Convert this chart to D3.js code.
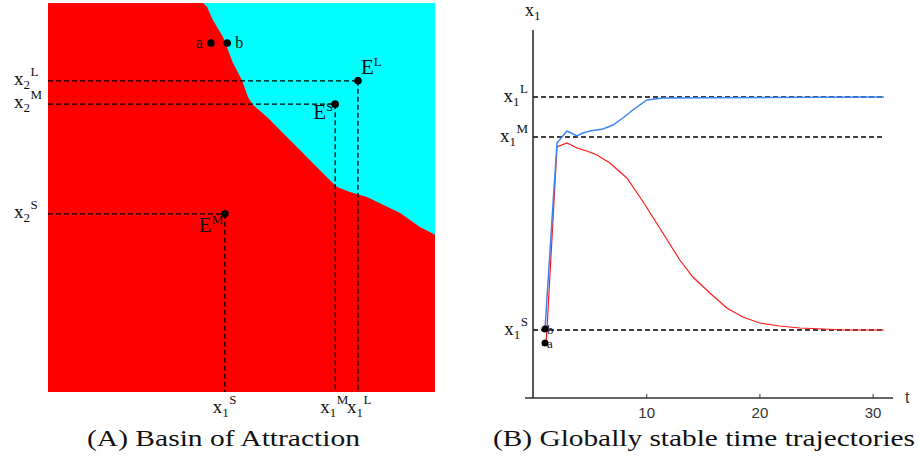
<!DOCTYPE html>
<html>
<head>
<meta charset="utf-8">
<script src="https://cdn.jsdelivr.net/npm/d3@7"></script>
<style>
  body { margin: 0; background: #fff; }
  text { font-family: "Liberation Serif", serif; fill: #111; }
</style>
</head>
<body>
<div id="chart"></div>
<script>
// ---- panel A : basin of attraction (unit square, x1 horizontal, x2 vertical)
var boundaryX1 = [0.401, 0.411, 0.426, 0.452, 0.478, 0.501, 0.517, 0.530, 0.566, 0.607, 0.651, 0.695, 0.736, 0.747, 0.780, 0.824, 0.910, 0.961, 1.0];
var boundaryX2 = [1.0, 0.990, 0.956, 0.913, 0.846, 0.802, 0.758, 0.738, 0.707, 0.666, 0.622, 0.578, 0.537, 0.527, 0.514, 0.501, 0.460, 0.424, 0.404];

var eqNames = ['L', 'S', 'M'];
var eqX1 = [0.801, 0.742, 0.457];
var eqX2 = [0.800, 0.740, 0.458];
var x1Labels = ['L', 'M', 'S'];   // label under each vertical dashed line
var x2Labels = ['L', 'M', 'S'];   // label left of each horizontal dashed line

var startNames = ['a', 'b'];
var startX1 = [0.421, 0.463];
var startX2 = [0.897, 0.897];

// ---- panel B : time trajectories
var levelNames = ['L', 'M', 'S'];
var levelValues = [3.01, 2.61, 0.68];
var timeTicks = [10, 20, 30];

var blueT = [1.06, 1.79, 2.12, 3.0, 3.88, 4.41, 5.03, 6.18, 7.06, 7.94, 8.82, 10.06, 11.47, 31];
var blueV = [0.69, 1.98, 2.55, 2.67, 2.62, 2.65, 2.67, 2.69, 2.73, 2.80, 2.88, 2.98, 3.00, 3.01];

var redT = [1.15, 1.24, 2.12, 3.0, 3.88, 4.76, 5.65, 6.79, 8.29, 9.62, 11.47, 12.97, 14.12, 15.62, 17.12, 18.53, 20.03, 21.79, 23.56, 27.7, 31];
var redV = [0.55, 0.70, 2.51, 2.55, 2.50, 2.47, 2.43, 2.35, 2.20, 1.98, 1.65, 1.38, 1.21, 1.05, 0.90, 0.81, 0.75, 0.72, 0.70, 0.68, 0.68];

var pointT = [1.06, 1.06];
var pointV = [0.55, 0.69];

var svg = d3.select('#chart')
    .append('svg')
    .attr('width', 920)
    .attr('height', 461);

// subscript / superscript label, e.g. x_2^L
function label(g, x, y, base, sub, sup, anchor, size) {
    var t = g.append('text')
        .attr('x', x)
        .attr('y', y)
        .attr('text-anchor', anchor || 'start')
        .style('font-size', (size || 19) + 'px');
    t.append('tspan').text(base);
    if (sub) t.append('tspan').attr('dy', 4).style('font-size', '13px').text(sub);
    if (sup) t.append('tspan').attr('dy', sub ? -13 : -8).attr('dx', sub ? 0.5 : 0).style('font-size', '13px').text(sup);
    return t;
}

// ===================== PANEL A
var xA = d3.scaleLinear().domain([0, 1]).range([48, 435]);
var yA = d3.scaleLinear().domain([0, 1]).range([392, 3]);

var gA = svg.append('g');

gA.append('rect')
    .attr('x', xA(0))
    .attr('y', yA(1))
    .attr('width', xA(1) - xA(0))
    .attr('height', yA(0) - yA(1))
    .attr('fill', '#ff0000');

var cyanPts = boundaryX1.map((d, i) => [d, boundaryX2[i]]);
cyanPts.push([1, 1]);
gA.append('path')
    .attr('d', d3.line().x(d => xA(d[0])).y(d => yA(d[1]))(cyanPts) + 'Z')
    .attr('fill', '#00ffff');

// dashed guides
eqNames.forEach(function (n, i) {
    gA.append('line')
        .attr('x1', xA(0)).attr('x2', xA(eqX1[i]))
        .attr('y1', yA(eqX2[i])).attr('y2', yA(eqX2[i]))
        .attr('stroke', '#000').attr('stroke-width', 1.3)
        .attr('stroke-dasharray', '5,3');
    gA.append('line')
        .attr('x1', xA(eqX1[i])).attr('x2', xA(eqX1[i]))
        .attr('y1', yA(eqX2[i])).attr('y2', yA(0))
        .attr('stroke', '#000').attr('stroke-width', 1.3)
        .attr('stroke-dasharray', '5,3');
});

gA.selectAll('circle.eq')
    .data(eqNames)
    .join('circle')
    .attr('cx', (d, i) => xA(eqX1[i]))
    .attr('cy', (d, i) => yA(eqX2[i]))
    .attr('r', 3.8)
    .attr('fill', '#000');

gA.selectAll('circle.start')
    .data(startNames)
    .enter().append('circle')
    .attr('cx', (d, i) => xA(startX1[i]))
    .attr('cy', (d, i) => yA(startX2[i]))
    .attr('r', 3.8)
    .attr('fill', '#000');

// equilibrium labels
var eqOffsets = { L: [3, -7], S: [-22, 15], M: [-26, 18] };
eqNames.forEach(function (n, i) {
    var o = eqOffsets[n];
    label(gA, xA(eqX1[i]) + o[0], yA(eqX2[i]) + o[1], 'E', null, n, 'start', 21);
});
label(gA, xA(startX1[0]) - 8, yA(startX2[0]) + 5, 'a', null, null, 'end', 16);
label(gA, xA(startX1[1]) + 8, yA(startX2[1]) + 5, 'b', null, null, 'start', 16);

// axis labels
var x1Shift = [-11, -15, -12];
eqNames.forEach(function (n, i) {
    label(gA, xA(eqX1[i]) + x1Shift[i], 413, 'x', '1', x1Labels[i], 'start');
    label(gA, 14, yA(eqX2[i]) + 4, 'x', '2', x2Labels[i], 'start');
});

svg.append('text')
    .attr('x', 87).attr('y', 446)
    .attr('textLength', 273)
    .attr('lengthAdjust', 'spacingAndGlyphs')
    .style('font-size', '23px')
    .text('(A) Basin of Attraction');

// ===================== PANEL B
var xB = d3.scaleLinear().domain([0, 31.8]).range([533, 893]);
var yB = d3.scaleLinear().domain([0, 3.68]).range([398, 30]);

var gB = svg.append('g');

// level lines
levelNames.forEach(function (n, i) {
    gB.append('line')
        .attr('x1', xB(0)).attr('x2', xB(31))
        .attr('y1', yB(levelValues[i])).attr('y2', yB(levelValues[i]))
        .attr('stroke', '#000').attr('stroke-width', 1.3)
        .attr('stroke-dasharray', '5,3');
    label(gB, 528, yB(levelValues[i]) + 5, 'x', '1', n, 'end');
});

// axes
var xaxis = d3.axisBottom(xB).tickValues(timeTicks).tickSize(0).tickPadding(9);
var gx = gB.append('g')
    .attr('transform', 'translate(0,' + yB(0) + ')')
    .call(xaxis);
gx.select('.domain').remove();
gx.selectAll('.tick text')
    .style('font-family', '"Liberation Sans", sans-serif')
    .style('font-size', '15px')
    .style('fill', '#333');
gx.selectAll('.tick').append('line')
    .attr('y1', 0).attr('y2', -4)
    .attr('stroke', '#333');

gB.append('line')
    .attr('x1', xB(0) - 8).attr('x2', xB(31.8))
    .attr('y1', yB(0)).attr('y2', yB(0))
    .attr('stroke', '#333').attr('stroke-width', 1.5);
gB.append('line')
    .attr('x1', xB(0)).attr('x2', xB(0))
    .attr('y1', yB(0)).attr('y2', yB(3.68))
    .attr('stroke', '#222').attr('stroke-width', 1.5);

gB.append('text')
    .attr('x', xB(31.8) + 12).attr('y', yB(0) + 5)
    .style('font-family', '"Liberation Sans", sans-serif')
    .style('font-size', '16px')
    .style('fill', '#333')
    .text('t');
label(gB, 525, 16, 'x', '1', null, 'start', 18);

// trajectories
var line = d3.line().x(d => xB(d[0])).y(d => yB(d[1]));

gB.append('path')
    .attr('d', line(redT.map((d, i) => [d, redV[i]])))
    .attr('fill', 'none')
    .attr('stroke', '#ff1a1a')
    .attr('stroke-width', 1.2);

gB.append('path')
    .attr('d', line(blueT.map((d, i) => [d, blueV[i]])))
    .attr('fill', 'none')
    .attr('stroke', '#3d85f5')
    .attr('stroke-width', 1.5);

gB.selectAll('circle')
    .data(startNames)
    .join('circle')
    .attr('cx', (d, i) => xB(pointT[i]))
    .attr('cy', (d, i) => yB(pointV[i]))
    .attr('r', 3.5)
    .attr('fill', '#000');

startNames.forEach(function (n, i) {
    label(gB, xB(pointT[i]) + 2, yB(pointV[i]) + 5, n, null, null, 'start', 13);
});

svg.append('text')
    .attr('x', 493).attr('y', 446)
    .attr('textLength', 422)
    .attr('lengthAdjust', 'spacingAndGlyphs')
    .style('font-size', '23px')
    .text('(B) Globally stable time trajectories');
</script>
</body>
</html>
